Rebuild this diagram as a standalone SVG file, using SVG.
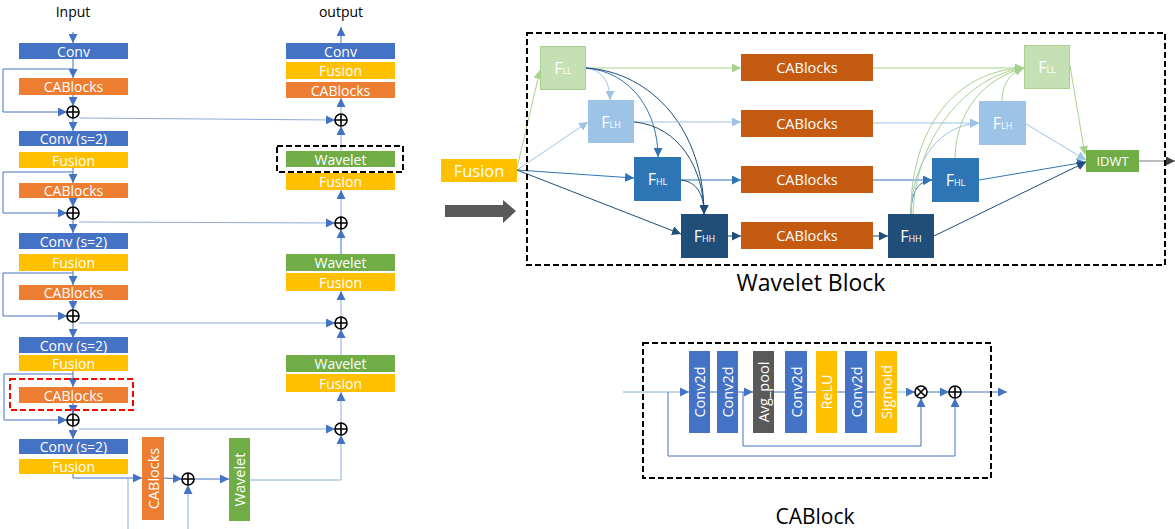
<svg xmlns="http://www.w3.org/2000/svg" width="1175" height="529" viewBox="0 0 1175 529">
<style>
text{font-family:"Open Sans","Liberation Sans",sans-serif;}
.bt{fill:#fff;font-size:14px;text-anchor:middle;dominant-baseline:central;}
.lbl{fill:#000;font-size:14px;text-anchor:middle;}
.big{fill:#000;font-size:21px;text-anchor:middle;}
.blue{fill:#4472c4;}
.orange{fill:#ed7d31;}
.yellow{fill:#ffc000;}
.green{fill:#70ad47;}
.dor{fill:#c55a11;}
.ln{fill:none;stroke:#4472c4;stroke-width:1;}
.lnl{fill:none;stroke:#8faadc;stroke-width:1;}
.pl circle{fill:none;stroke:#000;stroke-width:1.6;}
.pl path{stroke:#000;stroke-width:1.6;}
.dash{fill:none;stroke:#000;stroke-width:2;stroke-dasharray:6 3;}
.cG{fill:none;stroke:#a9d18e;stroke-width:1;}
.cL{fill:none;stroke:#9dc3e6;stroke-width:1;}
.cB{fill:none;stroke:#2e75b6;stroke-width:1;}
.cD{fill:none;stroke:#1f4e79;stroke-width:1;}
.ft{fill:#fff;font-size:16px;text-anchor:middle;}
.vt{font-size:14.5px;}
</style>
<defs>
<marker id="a" viewBox="0 0 10 10" refX="10" refY="5" markerWidth="9" markerHeight="9" markerUnits="userSpaceOnUse" orient="auto"><path d="M0,0L10,5L0,10z" fill="#4472c4"/></marker>
<marker id="aG" viewBox="0 0 10 10" refX="10" refY="5" markerWidth="9" markerHeight="9" markerUnits="userSpaceOnUse" orient="auto"><path d="M0,0L10,5L0,10z" fill="#a9d18e"/></marker>
<marker id="aL" viewBox="0 0 10 10" refX="10" refY="5" markerWidth="9" markerHeight="9" markerUnits="userSpaceOnUse" orient="auto"><path d="M0,0L10,5L0,10z" fill="#9dc3e6"/></marker>
<marker id="aB" viewBox="0 0 10 10" refX="10" refY="5" markerWidth="9" markerHeight="9" markerUnits="userSpaceOnUse" orient="auto"><path d="M0,0L10,5L0,10z" fill="#2e75b6"/></marker>
<marker id="aD" viewBox="0 0 10 10" refX="10" refY="5" markerWidth="9" markerHeight="9" markerUnits="userSpaceOnUse" orient="auto"><path d="M0,0L10,5L0,10z" fill="#1f4e79"/></marker>
<marker id="aK" viewBox="0 0 10 10" refX="10" refY="5" markerWidth="9" markerHeight="9" markerUnits="userSpaceOnUse" orient="auto"><path d="M0,0L10,5L0,10z" fill="#404040"/></marker>
<g id="plus" class="pl"><circle cx="0" cy="0" r="6"/><path d="M-6,0H6M0,-6V6"/></g>
<g id="times" class="pl"><circle cx="0" cy="0" r="6"/><path d="M-4.2,-4.2L4.2,4.2M-4.2,4.2L4.2,-4.2"/></g>
</defs>
<rect width="1175" height="529" fill="#fff"/>

<!-- connectors -->
<g id="connectors">
<path class="ln" d="M73,32V43" marker-end="url(#a)"/>
<path class="ln" d="M73,59V78" marker-end="url(#a)"/>
<path class="ln" d="M73,69H3V112H67" marker-end="url(#a)"/>
<path class="ln" d="M73,95V106" marker-end="url(#a)"/>
<path class="ln" d="M73,118V131" marker-end="url(#a)"/>
<path class="lnl" d="M79,118L335,120" marker-end="url(#a)"/>
<path class="ln" d="M73,168V183" marker-end="url(#a)"/>
<path class="ln" d="M73,172H3V213H67" marker-end="url(#a)"/>
<path class="ln" d="M73,198V207" marker-end="url(#a)"/>
<path class="ln" d="M73,219V233" marker-end="url(#a)"/>
<path class="lnl" d="M79,222L335,223" marker-end="url(#a)"/>
<path class="ln" d="M73,271V285" marker-end="url(#a)"/>
<path class="ln" d="M73,273H3V316H67" marker-end="url(#a)"/>
<path class="ln" d="M73,300V310" marker-end="url(#a)"/>
<path class="ln" d="M73,322V338" marker-end="url(#a)"/>
<path class="lnl" d="M79,323L335,323" marker-end="url(#a)"/>
<path class="ln" d="M73,371V387" marker-end="url(#a)"/>
<path class="ln" d="M73,374H4V420H67" marker-end="url(#a)"/>
<path class="ln" d="M73,403V414" marker-end="url(#a)"/>
<path class="ln" d="M73,426V439" marker-end="url(#a)"/>
<path class="lnl" d="M79,429L335,429" marker-end="url(#a)"/>
<path class="ln" d="M73,474V478H142" marker-end="url(#a)"/>
<path class="lnl" d="M128,478V529"/>
<path class="ln" d="M164,478L182,479" marker-end="url(#a)"/>
<path class="lnl" d="M188,529V485" marker-end="url(#a)"/>
<path class="ln" d="M194,479H229" marker-end="url(#a)"/>
<path class="lnl" d="M250,480H341V435" marker-end="url(#a)"/>
<path class="lnl" d="M341,423V392" marker-end="url(#a)"/>
<path class="lnl" d="M341,355V329" marker-end="url(#a)"/>
<path class="lnl" d="M341,317V291" marker-end="url(#a)"/>
<path class="ln" d="M341,254V229" marker-end="url(#a)"/>
<path class="lnl" d="M341,217V190" marker-end="url(#a)"/>
<path class="lnl" d="M341,151V126" marker-end="url(#a)"/>
<path class="lnl" d="M341,114V98" marker-end="url(#a)"/>
<path class="ln" d="M341,43V27" marker-end="url(#a)"/>

<path class="cG" d="M517,168L540,70" marker-end="url(#aG)"/>
<path class="cL" d="M517,170L588,122" marker-end="url(#aL)"/>
<path class="cB" d="M517,170L634,178" marker-end="url(#aB)"/>
<path class="cD" d="M517,170L681,234" marker-end="url(#aD)"/>
<path class="cG" d="M586,68H741" marker-end="url(#aG)"/>
<path class="cL" d="M586,68C602,70 610,82 610,100" marker-end="url(#aL)"/>
<path class="cB" d="M586,68C632,72 658,112 658,157" marker-end="url(#aB)"/>
<path class="cD" d="M586,68C652,72 704,130 704,214" marker-end="url(#aD)"/>
<path class="cL" d="M634,122H741" marker-end="url(#aL)"/>
<path class="cD" d="M634,122C680,126 704,170 704,214" marker-end="url(#aD)"/>
<path class="cB" d="M681,180H741" marker-end="url(#aB)"/>
<path class="cD" d="M681,180C698,182 704,196 704,214" marker-end="url(#aD)"/>
<path class="cD" d="M728,236H741" marker-end="url(#aD)"/>
<path class="cG" d="M873,68H1024" marker-end="url(#aG)"/>
<path class="cL" d="M873,123H979" marker-end="url(#aL)"/>
<path class="cB" d="M873,180H932" marker-end="url(#aB)"/>
<path class="cD" d="M873,236H888" marker-end="url(#aD)"/>
<path class="cB" d="M911,214C911,192 918,181 932,180" marker-end="url(#aB)"/>
<path class="cL" d="M911,214C912,160 940,125 979,123" marker-end="url(#aL)"/>
<path class="cG" d="M911,214C910,130 955,70 1024,68" marker-end="url(#aG)"/>
<path class="cG" d="M913,214C915,140 965,76 1024,68" marker-end="url(#aG)"/>
<path class="cG" d="M955,158C956,110 985,78 1024,68" marker-end="url(#aG)"/>
<path class="cG" d="M1002,101C1002,86 1008,74 1024,68" marker-end="url(#aG)"/>
<path class="cG" d="M1070,66L1085,155" marker-end="url(#aG)"/>
<path class="cL" d="M1026,124L1086,160" marker-end="url(#aL)"/>
<path class="cB" d="M979,180L1086,162" marker-end="url(#aB)"/>
<path class="cD" d="M934,236L1086,162" marker-end="url(#aD)"/>
<path d="M1139,161H1175" stroke="#a6a6a6" stroke-width="1.5" fill="none" marker-end="url(#aK)"/>

<path class="lnl" d="M623,392H689" marker-end="url(#a)"/>
<path class="ln" d="M710,392H717"/>
<path class="ln" d="M738,392H753" marker-end="url(#a)"/>
<path class="ln" d="M774,392H785M807,392H816M837,392H845M867,392H875"/>
<path class="lnl" d="M897,392H915" marker-end="url(#a)"/>
<path class="ln" d="M927,392H949" marker-end="url(#a)"/>
<path class="ln" d="M961,392H1007" marker-end="url(#a)"/>
<path class="ln" d="M668,392V456H955V398" marker-end="url(#a)"/>
<path class="ln" d="M743,392V446H921V398" marker-end="url(#a)"/>
</g>

<path id="bigarrow" d="M445,205H503V200L516,211L503,223V217H445z" fill="#595959"/>

<text class="lbl" x="73" y="17">Input</text>
<g id="l_conv"><rect class="blue" x="19" y="43" width="109" height="16"/><text class="bt" x="73.5" y="51">Conv</text></g>
<g id="l_cab1"><rect class="orange" x="19" y="78" width="109" height="17"/><text class="bt" x="73.5" y="86.5">CABlocks</text></g>
<g id="l_conv2"><rect class="blue" x="19" y="131" width="109" height="15"/><text class="bt" x="73.5" y="138.5">Conv (s=2)</text></g>
<g id="l_fus1"><rect class="yellow" x="19" y="152" width="109" height="16"/><text class="bt" x="73.5" y="160">Fusion</text></g>
<g id="l_cab2"><rect class="orange" x="19" y="183" width="109" height="15"/><text class="bt" x="73.5" y="190.5">CABlocks</text></g>
<g id="l_conv3"><rect class="blue" x="19" y="233" width="109" height="16"/><text class="bt" x="73.5" y="241">Conv (s=2)</text></g>
<g id="l_fus2"><rect class="yellow" x="19" y="254" width="109" height="17"/><text class="bt" x="73.5" y="262.5">Fusion</text></g>
<g id="l_cab3"><rect class="orange" x="19" y="285" width="109" height="15"/><text class="bt" x="73.5" y="292.5">CABlocks</text></g>
<g id="l_conv4"><rect class="blue" x="19" y="337" width="109" height="16"/><text class="bt" x="73.5" y="345">Conv (s=2)</text></g>
<g id="l_fus3"><rect class="yellow" x="19" y="355" width="109" height="16"/><text class="bt" x="73.5" y="363">Fusion</text></g>
<g id="l_cab4"><rect class="orange" x="19" y="387" width="109" height="16"/><text class="bt" x="73.5" y="395">CABlocks</text>
<rect x="10" y="379" width="123" height="31" fill="none" stroke="#ff0000" stroke-width="2" stroke-dasharray="6 3"/></g>
<g id="l_conv5"><rect class="blue" x="19" y="439" width="109" height="15"/><text class="bt" x="73.5" y="446.5">Conv (s=2)</text></g>
<g id="l_fus4"><rect class="yellow" x="19" y="459" width="109" height="15"/><text class="bt" x="73.5" y="466.5">Fusion</text></g>
<g id="l_p1"><use href="#plus" x="73" y="112"/></g>
<g id="l_p2"><use href="#plus" x="73" y="213"/></g>
<g id="l_p3"><use href="#plus" x="73" y="316"/></g>
<g id="l_p4"><use href="#plus" x="73" y="420"/></g>

<g id="b_cab"><rect class="orange" x="142" y="437" width="22" height="83"/><text class="bt vt" transform="translate(153,478.5) rotate(-90)">CABlocks</text></g>
<g id="b_p"><use href="#plus" x="188" y="479"/></g>
<g id="b_wav"><rect class="green" x="229" y="438" width="21" height="83"/><text class="bt vt" transform="translate(239.5,479.5) rotate(-90)">Wavelet</text></g>

<text class="lbl" x="341" y="17">output</text>
<g id="r_conv"><rect class="blue" x="286" y="43" width="109" height="16"/><text class="bt" x="340.5" y="51">Conv</text></g>
<g id="r_fus0"><rect class="yellow" x="286" y="62" width="109" height="17"/><text class="bt" x="340.5" y="70.5">Fusion</text></g>
<g id="r_cab"><rect class="orange" x="286" y="82" width="109" height="16"/><text class="bt" x="340.5" y="90">CABlocks</text></g>
<g id="r_p1"><use href="#plus" x="341" y="120"/></g>
<g id="r_wav1"><rect class="green" x="286" y="151" width="109" height="16"/><text class="bt" x="340.5" y="159">Wavelet</text>
<rect class="dash" x="277" y="146" width="126" height="26"/></g>
<g id="r_fus1"><rect class="yellow" x="286" y="173" width="109" height="17"/><text class="bt" x="340.5" y="181.5">Fusion</text></g>
<g id="r_p2"><use href="#plus" x="341" y="223"/></g>
<g id="r_wav2"><rect class="green" x="286" y="254" width="109" height="17"/><text class="bt" x="340.5" y="262.5">Wavelet</text></g>
<g id="r_fus2"><rect class="yellow" x="286" y="273" width="109" height="18"/><text class="bt" x="340.5" y="282">Fusion</text></g>
<g id="r_p3"><use href="#plus" x="341" y="323"/></g>
<g id="r_wav3"><rect class="green" x="286" y="355" width="109" height="17"/><text class="bt" x="340.5" y="363.5">Wavelet</text></g>
<g id="r_fus3"><rect class="yellow" x="286" y="374" width="109" height="18"/><text class="bt" x="340.5" y="383">Fusion</text></g>
<g id="r_p4"><use href="#plus" x="341" y="429"/></g>

<rect class="dash" x="527" y="33" width="638" height="232"/>
<text class="big" x="811" y="291" style="font-size:23px">Wavelet Block</text>
<g id="w_fusion"><rect class="yellow" x="441" y="159" width="76" height="23"/><text class="bt" x="479" y="170.5" style="font-size:16.5px">Fusion</text></g>
<g id="w_fll"><rect x="540.5" y="46.5" width="45" height="43" fill="#c5e0b4" stroke="#a9d18e"/><text class="ft" x="563" y="74">F<tspan font-size="9">LL</tspan></text></g>
<g id="w_flh"><rect x="588.5" y="100.5" width="45" height="42" fill="#9dc3e6" stroke="#9dc3e6"/><text class="ft" x="611" y="128">F<tspan font-size="9">LH</tspan></text></g>
<g id="w_fhl"><rect x="634.5" y="157.5" width="46" height="43" fill="#2e75b6" stroke="#2e75b6"/><text class="ft" x="657.5" y="185">F<tspan font-size="9">HL</tspan></text></g>
<g id="w_fhh"><rect x="681.5" y="214.5" width="46" height="43" fill="#1f4e79" stroke="#1f4e79"/><text class="ft" x="704.5" y="242">F<tspan font-size="9">HH</tspan></text></g>
<g id="w_cab1"><rect class="dor" x="741" y="54" width="132" height="27"/><text class="bt" x="807" y="67.5" style="font-size:14.5px">CABlocks</text></g>
<g id="w_cab2"><rect class="dor" x="741" y="110" width="132" height="27"/><text class="bt" x="807" y="123.5" style="font-size:14.5px">CABlocks</text></g>
<g id="w_cab3"><rect class="dor" x="741" y="166" width="132" height="27"/><text class="bt" x="807" y="179.5" style="font-size:14.5px">CABlocks</text></g>
<g id="w_cab4"><rect class="dor" x="741" y="222" width="132" height="27"/><text class="bt" x="807" y="235.5" style="font-size:14.5px">CABlocks</text></g>
<g id="w_fll2"><rect x="1024.5" y="45.5" width="45" height="43" fill="#c5e0b4" stroke="#a9d18e"/><text class="ft" x="1047" y="73">F<tspan font-size="9">LL</tspan></text></g>
<g id="w_flh2"><rect x="979.5" y="101.5" width="46" height="43" fill="#9dc3e6" stroke="#9dc3e6"/><text class="ft" x="1002.5" y="129">F<tspan font-size="9">LH</tspan></text></g>
<g id="w_fhl2"><rect x="932.5" y="158.5" width="46" height="43" fill="#2e75b6" stroke="#2e75b6"/><text class="ft" x="955.5" y="186">F<tspan font-size="9">HL</tspan></text></g>
<g id="w_fhh2"><rect x="888.5" y="214.5" width="45" height="43" fill="#1f4e79" stroke="#1f4e79"/><text class="ft" x="911" y="242">F<tspan font-size="9">HH</tspan></text></g>
<g id="w_idwt"><rect class="green" x="1086" y="150" width="53" height="22"/><text class="bt" x="1112.5" y="161" style="font-size:13px">IDWT</text></g>

<rect class="dash" x="643" y="343" width="348" height="135"/>
<text class="big" x="815" y="524">CABlock</text>
<g id="c_conv1"><rect class="blue" x="689" y="351" width="21" height="82"/><text class="bt vt" transform="translate(699.5,392) rotate(-90)">Conv2d</text></g>
<g id="c_conv2"><rect class="blue" x="717" y="351" width="21" height="82"/><text class="bt vt" transform="translate(727.5,392) rotate(-90)">Conv2d</text></g>
<g id="c_pool"><rect x="753" y="351" width="21" height="82" fill="#595959"/><text class="bt vt" transform="translate(763.5,392) rotate(-90)">Avg_pool</text></g>
<g id="c_conv3"><rect class="blue" x="785" y="351" width="22" height="82"/><text class="bt vt" transform="translate(796,392) rotate(-90)">Conv2d</text></g>
<g id="c_relu"><rect class="yellow" x="816" y="351" width="21" height="82"/><text class="bt vt" transform="translate(826.5,392) rotate(-90)">ReLU</text></g>
<g id="c_conv4"><rect class="blue" x="845" y="351" width="22" height="82"/><text class="bt vt" transform="translate(856,392) rotate(-90)">Conv2d</text></g>
<g id="c_sig"><rect class="yellow" x="875" y="351" width="22" height="82"/><text class="bt vt" transform="translate(886,392) rotate(-90)">Sigmoid</text></g>
<g id="c_times"><use href="#times" x="921" y="392"/></g>
<g id="c_plus"><use href="#plus" x="955" y="392"/></g>
</svg>
